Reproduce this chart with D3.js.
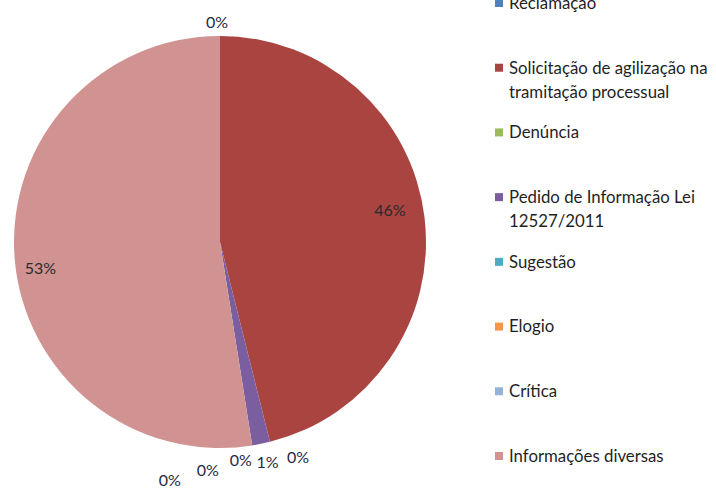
<!DOCTYPE html>
<html>
<head>
<meta charset="utf-8">
<script src="https://cdn.jsdelivr.net/npm/d3@7"></script>
<style>
  body { margin: 0; background: #fff; }
  svg { display: block; font-family: Lato, "Open Sans", sans-serif; }
</style>
</head>
<body>
<div id="chart"></div>
<script>
// dados (percentual por categoria)
const categorias = [
  ["Reclamação"],
  ["Solicitação de agilização na", "tramitação processual"],
  ["Denúncia"],
  ["Pedido de Informação Lei", "12527/2011"],
  ["Sugestão"],
  ["Elogio"],
  ["Crítica"],
  ["Informações diversas"]
];
const valores = [0, 46.1, 0, 1.4, 0, 0, 0, 52.5];
const rotulos = ["0%", "46%", "0%", "1%", "0%", "0%", "0%", "53%"];
const cores = ["#4F81BD", "#A94441", "#9BBB59", "#7B5EA0", "#4BACC6", "#F79646", "#95B3D7", "#D09391"];

// ajustes de posição dos rótulos (Excel afasta os rótulos sobrepostos)
const ajusteRotulo = [[-3, 3], [-6, -10], [24, -1], [3, 2], [-14, -2], [-47, 8], [-85, 18], [-3, 12]];

const width = 716, height = 490;
const cx = 220, cy = 242, r = 206;

const svg = d3.select("#chart").append("svg")
  .attr("width", width)
  .attr("height", height);

const pie = d3.pie().sort(null).value(d => d)(valores);
const arc = d3.arc().innerRadius(0).outerRadius(r);

const g = svg.append("g").attr("transform", `translate(${cx},${cy})`);

g.selectAll("path")
  .data(pie)
  .enter()
  .append("path")
  .attr("d", arc)
  .attr("fill", (d, i) => cores[i]);

// rótulos: dentro para fatias grandes, fora para as pequenas
const arcDentro = d3.arc().innerRadius(r * 0.86).outerRadius(r * 0.86);
const arcFora = d3.arc().innerRadius(r + 17).outerRadius(r + 17);
const grande = d => d.endAngle - d.startAngle > 0.3;

g.selectAll("text.rotulo")
  .data(pie)
  .enter()
  .append("text")
  .attr("class", "rotulo")
  .attr("transform", (d, i) => {
    const [x, y] = grande(d) ? arcDentro.centroid(d) : arcFora.centroid(d);
    return `translate(${x + ajusteRotulo[i][0]},${y + ajusteRotulo[i][1]})`;
  })
  .attr("text-anchor", "middle")
  .attr("dy", "0.35em")
  .attr("font-size", 16)
  .attr("fill", d => grande(d) ? "#2b2b2b" : "#1f2a44")
  .text((d, i) => rotulos[i]);

// legenda
const yLegenda = d3.scaleLinear().domain([0, categorias.length - 1]).range([3, 456]);

const legenda = svg.append("g")
  .selectAll("g")
  .data(categorias)
  .enter()
  .append("g")
  .attr("transform", (d, i) => `translate(495,${yLegenda(i)})`);

legenda.append("rect")
  .attr("x", 0)
  .attr("y", -4)
  .attr("width", 8)
  .attr("height", 8)
  .attr("fill", (d, i) => cores[i]);

legenda.append("text")
  .attr("font-size", 16.8)
  .attr("fill", "#1f1f1f")
  .selectAll("tspan")
  .data(d => d)
  .enter()
  .append("tspan")
  .attr("x", 14)
  .attr("y", (d, i) => i * 24)
  .attr("dy", "0.35em")
  .text(d => d);
</script>
</body>
</html>
